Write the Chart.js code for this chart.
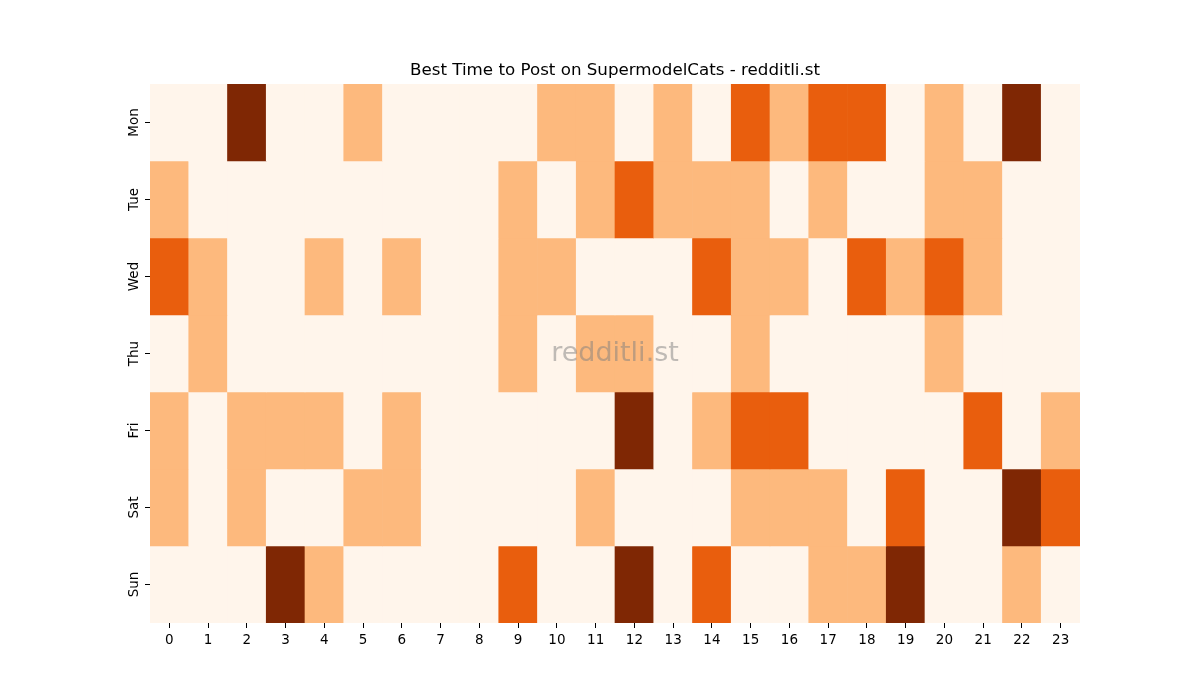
<!DOCTYPE html>
<html>
<head>
<meta charset="utf-8">
<script src="https://cdn.jsdelivr.net/npm/chart.js@4"></script>
<style>
    html, body { margin: 0; padding: 0; background: #fff; }
    #wrap { width: 1200px; height: 700px; }
</style>
</head>
<body>
<div id="wrap"><canvas id="heatmap"></canvas></div>
<script>
const hours = ['0','1','2','3','4','5','6','7','8','9','10','11','12','13','14','15','16','17','18','19','20','21','22','23'];
const days = ['Mon', 'Tue', 'Wed', 'Thu', 'Fri', 'Sat', 'Sun'];

// posting level per hour (0 = none .. 3 = best)
const mon = [0,0,3,0,0,1,0,0,0,0,1,1,0,1,0,2,1,2,2,0,1,0,3,0];
const tue = [1,0,0,0,0,0,0,0,0,1,0,1,2,1,1,1,0,1,0,0,1,1,0,0];
const wed = [2,1,0,0,1,0,1,0,0,1,1,0,0,0,2,1,1,0,2,1,2,1,0,0];
const thu = [0,1,0,0,0,0,0,0,0,1,0,1,1,0,0,1,0,0,0,0,1,0,0,0];
const fri = [1,0,1,1,1,0,1,0,0,0,0,0,3,0,1,2,2,0,0,0,0,2,0,1];
const sat = [1,0,1,0,0,1,1,0,0,0,0,1,0,0,0,1,1,1,0,2,0,0,3,2];
const sun = [0,0,0,3,1,0,0,0,0,2,0,0,3,0,2,0,0,1,1,3,0,0,1,0];

const rows = [mon, tue, wed, thu, fri, sat, sun];
const levelColors = ['#fff5eb', '#fdb97d', '#e95e0d', '#7f2704'];
const titleText = 'Best Time to Post on SupermodelCats - redditli.st';

// Each day is a dataset of floating bars spanning [row, row + 1]
const datasets = rows.map((row, r) => ({
    label: days[r],
    data: row.map(() => [r, r + 1]),
    backgroundColor: row.map(v => levelColors[v]),
    borderWidth: 0,
    barPercentage: 1,
    categoryPercentage: 1,
    grouped: false
}));

// title centred over the plot area, watermark in the middle of it
const overlay = {
    id: 'overlay',
    afterDatasetsDraw(chart) {
        const { ctx, chartArea } = chart;
        const cx = (chartArea.left + chartArea.right) / 2;
        ctx.save();
        ctx.textAlign = 'center';
        ctx.textBaseline = 'middle';
        ctx.font = '27px "DejaVu Sans", sans-serif';
        ctx.fillStyle = 'rgba(128, 128, 128, 0.5)';
        ctx.fillText('redditli.st', cx, (chartArea.top + chartArea.bottom) / 2);
        ctx.font = '16.7px "DejaVu Sans", sans-serif';
        ctx.fillStyle = '#000';
        ctx.fillText(titleText, cx, chartArea.top - 13);
        ctx.restore();
    }
};

new Chart(document.getElementById('heatmap'), {
    type: 'bar',
    data: { labels: hours, datasets: datasets },
    options: {
        responsive: true,
        maintainAspectRatio: false,
        animation: false,
        layout: { padding: { top: 84, right: 120, bottom: 0, left: 0 } },
        plugins: {
            legend: { display: false },
            tooltip: { enabled: false },
            title: { display: false }
        },
        scales: {
            x: {
                type: 'category',
                offset: true,
                border: { display: false },
                grid: {
                    offset: false,
                    drawOnChartArea: false,
                    drawTicks: true,
                    tickLength: 5,
                    color: '#000'
                },
                ticks: {
                    color: '#000',
                    padding: 4,
                    maxRotation: 0,
                    autoSkip: false,
                    font: { family: '"DejaVu Sans", sans-serif', size: 13.5 }
                },
                afterFit(scale) { scale.height = 77; }
            },
            y: {
                type: 'linear',
                reverse: true,
                min: 0,
                max: 7,
                border: { display: false },
                grid: {
                    drawOnChartArea: false,
                    drawTicks: true,
                    tickLength: 5,
                    color: '#000'
                },
                afterBuildTicks(scale) {
                    scale.ticks = days.map((d, i) => ({ value: i + 0.5 }));
                },
                ticks: {
                    color: '#000',
                    padding: -4,
                    crossAlign: 'center',
                    minRotation: 90,
                    maxRotation: 90,
                    autoSkip: false,
                    font: { family: '"DejaVu Sans", sans-serif', size: 13.5 },
                    callback: (value) => days[Math.floor(value)]
                },
                afterFit(scale) { scale.width = 150; }
            }
        }
    },
    plugins: [overlay]
});
</script>
</body>
</html>
